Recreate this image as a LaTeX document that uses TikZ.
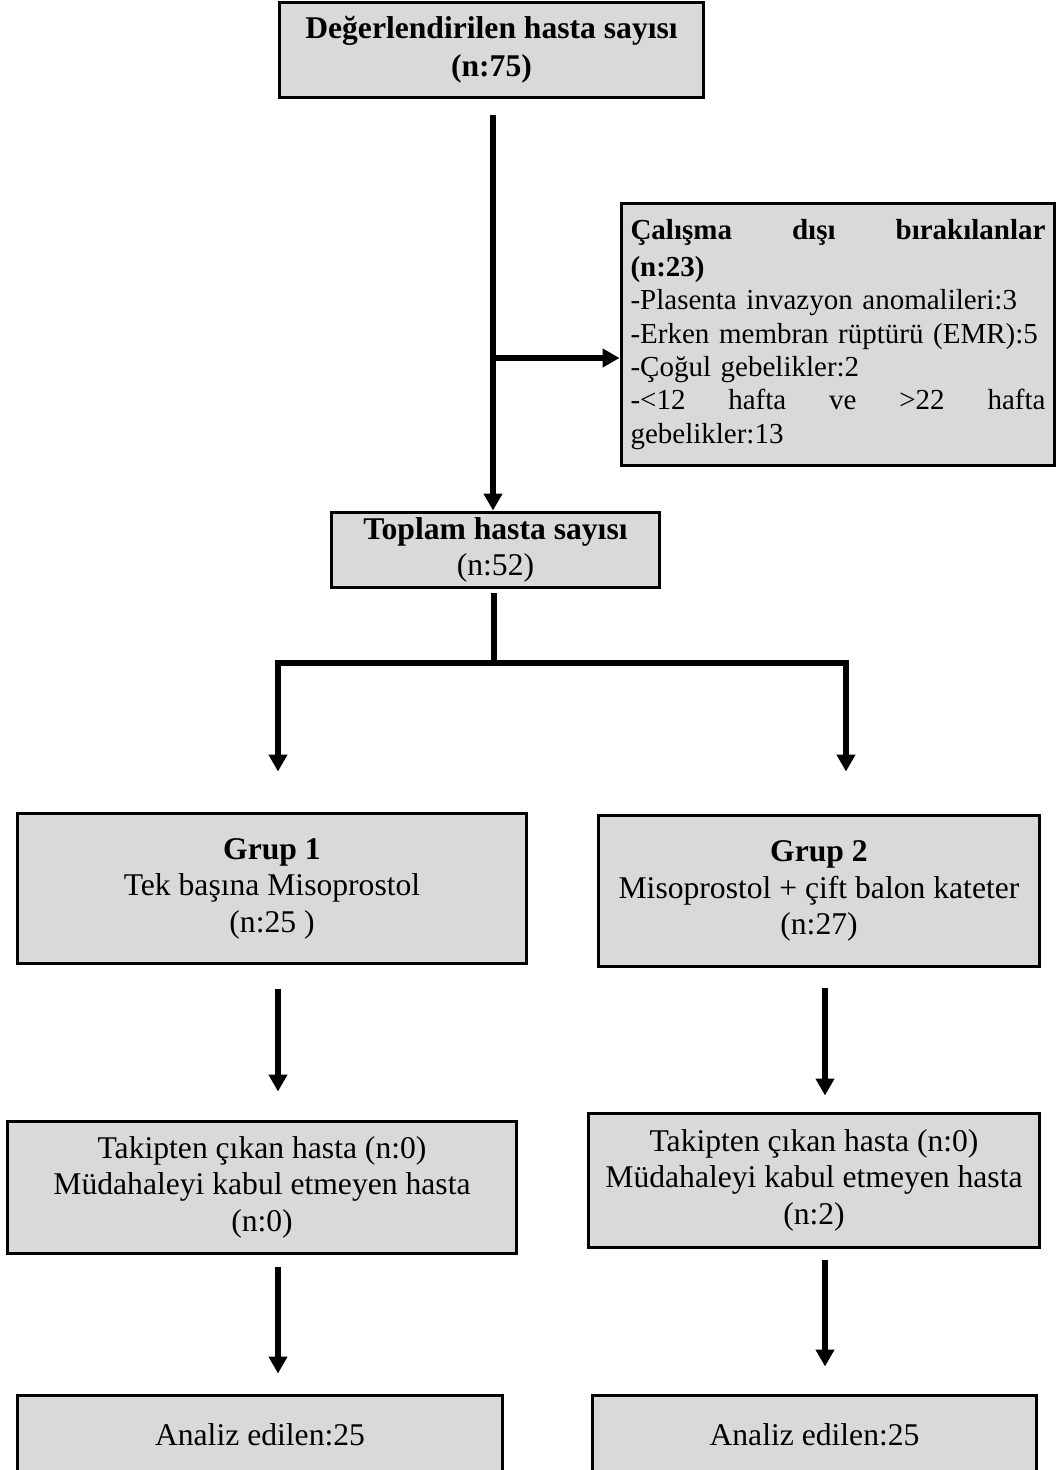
\documentclass[tikz,border=0pt]{standalone}
\usepackage{fontspec}
\setmainfont{Liberation Serif}
\usetikzlibrary{arrows.meta}
\definecolor{boxgray}{HTML}{D9D9D9}

\begin{document}
\begin{tikzpicture}[x=0.02cm,y=-0.02cm,>={Triangle[length=0.34cm,width=0.36cm]},
		line width=0.12cm,
		main box/.style={rectangle,draw,fill=boxgray,line width=0.06cm,inner sep=0pt,
			align=center,font=\fontsize{18}{20.8}\selectfont}]
		\useasboundingbox (0,0) rectangle (1056,1470);
		
		\node[main box,minimum width=8.48cm,minimum height=1.92cm] (start) at (491.5,50)
			{\textbf{Değerlendirilen hasta sayısı}\\[1pt]\textbf{(n:75)}};
		\node[main box,minimum width=8.68cm,minimum height=5.26cm,text width=8.3cm,align=left,
			font=\fontsize{16.5}{19}\selectfont] (excluded) at (838,334.5)
			{\textbf{Çalışma\hfill dışı\hfill bırakılanlar}\\[2pt]\textbf{(n:23)}\\
			\mbox{-Plasenta invazyon anomalileri:3}\\
			\mbox{-Erken membran rüptürü (EMR):5}\\
			\mbox{-Çoğul gebelikler:2}\\
			-<12\hfill hafta\hfill ve\hfill >22\hfill hafta\\
			gebelikler:13};
		\node[main box,minimum width=6.58cm,minimum height=1.52cm] (total) at (495.5,550)
			{\textbf{Toplam hasta sayısı}\\(n:52)};
		\node[main box,minimum width=10.2cm,minimum height=3.02cm] (grp1) at (272,888.5)
			{\textbf{Grup 1}\\Tek başına Misoprostol\\(n:25 )};
		\node[main box,minimum width=8.84cm,minimum height=3.04cm] (grp2) at (819,891)
			{\textbf{Grup 2}\\Misoprostol + çift balon kateter\\(n:27)};
		\node[main box,minimum width=10.2cm,minimum height=2.64cm] (lost1) at (262,1187)
			{Takipten çıkan hasta (n:0)\\Müdahaleyi kabul etmeyen hasta\\(n:0)};
		\node[main box,minimum width=9.04cm,minimum height=2.68cm] (lost2) at (814,1180)
			{Takipten çıkan hasta (n:0)\\Müdahaleyi kabul etmeyen hasta\\(n:2)};
		\node[main box,minimum width=9.72cm,minimum height=1.6cm] (done1) at (260,1435)
			{Analiz edilen:25};
		\node[main box,minimum width=8.9cm,minimum height=1.6cm] (done2) at (814.5,1435)
			{Analiz edilen:25};
		
		% lanes of the arrows
		\coordinate (trunk) at (493,115);
		\coordinate (split) at (493,358);
		\coordinate (fork) at (494,663);
		\coordinate (lane1) at (278,0);
		\coordinate (lane2) at (825,0);
		\coordinate (lane3) at (846,0);
		
		\draw[->] (trunk) -- (trunk |- total.north);
		\draw[->] (split) -- (split -| excluded.west);
		\draw[shorten <=0.08cm] (total.south -| fork) -- (fork);
		\draw[->,shorten >=0.8cm] (fork) -| (grp1.north -| lane1);
		\draw[->,shorten >=0.84cm] (fork) -| (grp2.north -| lane3);
		\draw[->,shorten <=0.48cm,shorten >=0.56cm] (grp1.south -| lane1) -- (lost1.north -| lane1);
		\draw[->,shorten <=0.4cm,shorten >=0.32cm] (grp2.south -| lane2) -- (lost2.north -| lane2);
		\draw[->,shorten <=0.24cm,shorten >=0.4cm] (lost1.south -| lane1) -- (done1.north -| lane1);
		\draw[->,shorten <=0.22cm,shorten >=0.54cm] (lost2.south -| lane2) -- (done2.north -| lane2);
\end{tikzpicture}
\end{document}
